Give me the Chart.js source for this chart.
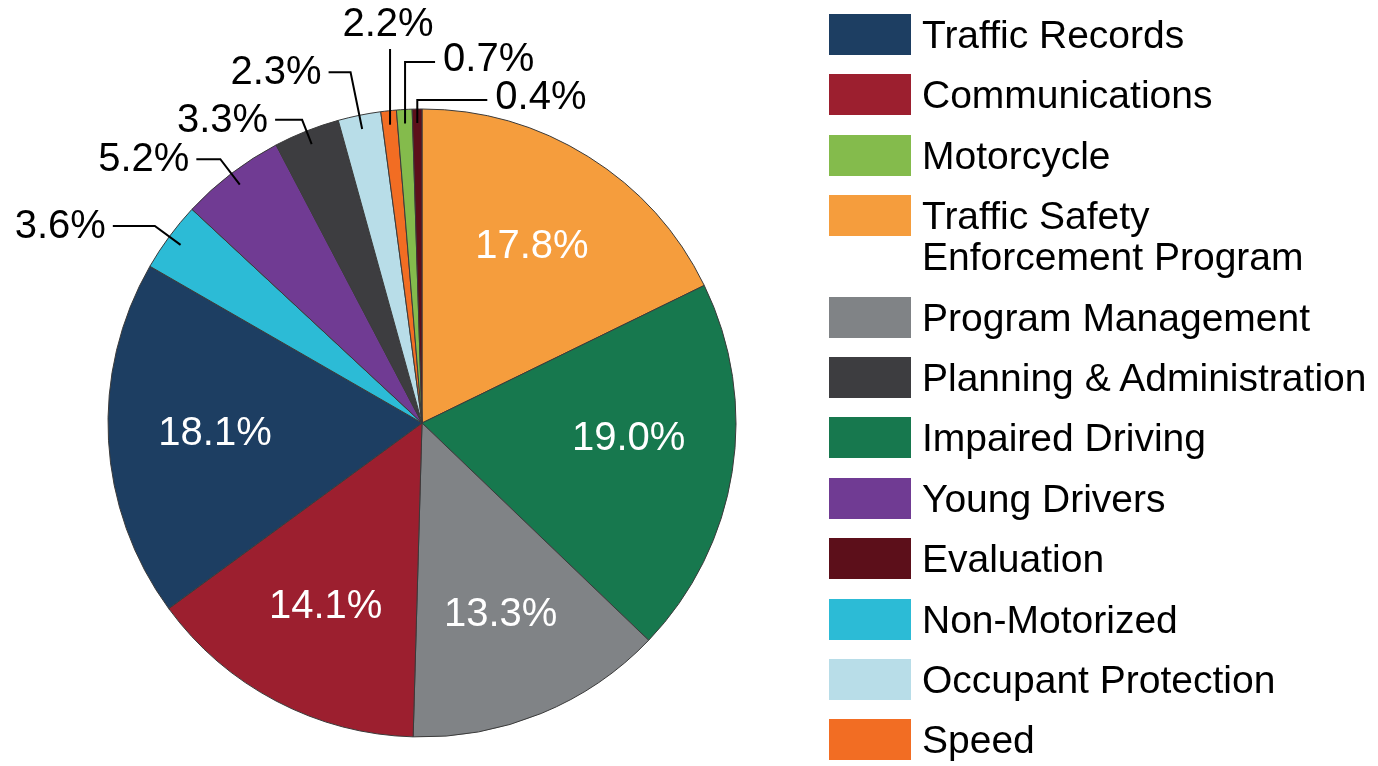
<!DOCTYPE html>
<html lang="en">
<head>
<meta charset="UTF-8">
<title>Funding by Program Area</title>
<script src="https://cdn.jsdelivr.net/npm/chart.js"></script>
<style>
    body { margin: 0; background: #fff; font-family: "Liberation Sans", Arial, sans-serif; }
    #wrap { position: relative; width: 1378px; height: 766px; overflow: hidden; }
    #chartBox { position: absolute; left: 0; top: 0; width: 844px; height: 766px; }
    #legend { position: absolute; left: 829px; top: 14px; display: flex; flex-direction: column; gap: 19.4px; }
    .item { display: flex; align-items: flex-start; }
    .swatch { width: 82px; height: 41px; flex: none; }
    .text { margin-left: 11px; font-size: 39px; line-height: 41px; color: #000; white-space: nowrap; }
</style>
</head>
<body>
<div id="wrap">
    <div id="chartBox"><canvas id="pie"></canvas></div>
    <div id="legend"></div>
</div>

<script>
    // slices in drawing order, clockwise from 12 o'clock
    const categories = ['Traffic Safety Enforcement Program', 'Impaired Driving', 'Program Management', 'Communications',
        'Traffic Records', 'Non-Motorized', 'Young Drivers', 'Planning & Administration', 'Occupant Protection',
        'Speed', 'Motorcycle', 'Evaluation'];
    // share of the pie as drawn
    const shares = [17.8, 19.4, 13.3, 14.5, 18.4, 3.6, 5.4, 3.4, 2.2, 0.8, 0.8, 0.5];
    // percentages as printed on the chart
    const pctLabels = ['17.8%', '19.0%', '13.3%', '14.1%', '18.1%', '3.6%', '5.2%', '3.3%', '2.3%', '2.2%', '0.7%', '0.4%'];
    const colors = ['#f59d3d', '#17784e', '#808386', '#9c1f2f', '#1d3e62', '#2cbbd6', '#703b93', '#3d3d40',
        '#b8dde8', '#f26d23', '#84bb4c', '#5c0f1a'];
    const legendOrder = ['Traffic Records', 'Communications', 'Motorcycle', 'Traffic Safety Enforcement Program',
        'Program Management', 'Planning & Administration', 'Impaired Driving', 'Young Drivers', 'Evaluation',
        'Non-Motorized', 'Occupant Protection', 'Speed'];
    const legendLines = { 'Traffic Safety Enforcement Program': ['Traffic Safety', 'Enforcement Program'] };

    // leader lines for the small slices (index -> layout)
    const leaders = {
        5: { ext: 18, arm: -42 },
        6: { ext: 18, arm: -24 },
        7: { ext: 12, arm: -27 },
        8: { ext: 44, arm: -22 },
        9: { ext: 60, arm: 0, up: true },
        10: { ext: 47, arm: 30, up: true },
        11: { ext: 9, arm: 70, up: true }
    };
    // small angle shift (degrees) for inside labels that sit off the slice middle
    const insideShift = { 1: -4.5 };

    const labelFont = '40px "Liberation Sans", Arial, sans-serif';

    const sliceLabels = {
        id: 'sliceLabels',
        afterDatasetsDraw(chart) {
            const ctx = chart.ctx;
            const arcs = chart.getDatasetMeta(0).data;
            ctx.save();
            ctx.font = labelFont;
            ctx.textBaseline = 'middle';
            arcs.forEach((arc, i) => {
                const { x, y, startAngle, endAngle, outerRadius } =
                    arc.getProps(['x', 'y', 'startAngle', 'endAngle', 'outerRadius'], true);
                const mid = (startAngle + endAngle) / 2;
                const lead = leaders[i];
                if (!lead) {
                    const a = mid + (insideShift[i] || 0) * Math.PI / 180;
                    const r = outerRadius * 0.66;
                    ctx.fillStyle = '#fff';
                    ctx.textAlign = 'center';
                    ctx.fillText(pctLabels[i], x + r * Math.cos(a), y + r * Math.sin(a));
                    return;
                }
                const ax = x + (outerRadius - 14) * Math.cos(mid);
                const ay = y + (outerRadius - 14) * Math.sin(mid);
                let ex, ey;
                if (lead.up) {
                    ex = ax;
                    ey = y - outerRadius - lead.ext;
                } else {
                    ex = x + (outerRadius + lead.ext) * Math.cos(mid);
                    ey = y + (outerRadius + lead.ext) * Math.sin(mid);
                }
                const hx = ex + lead.arm;
                ctx.strokeStyle = '#000';
                ctx.lineWidth = 2;
                ctx.beginPath();
                ctx.moveTo(ax, ay);
                ctx.lineTo(ex, ey);
                ctx.lineTo(hx, ey);
                ctx.stroke();
                ctx.fillStyle = '#000';
                if (lead.arm < 0) {
                    ctx.textAlign = 'right';
                    ctx.fillText(pctLabels[i], hx - 7, ey + 1);
                } else if (lead.arm > 0) {
                    ctx.textAlign = 'left';
                    ctx.fillText(pctLabels[i], hx + 8, ey - 2);
                } else {
                    ctx.textAlign = 'center';
                    ctx.fillText(pctLabels[i], ex - 2, ey - 24);
                }
            });
            ctx.restore();
        }
    };

    const chart = new Chart(document.getElementById('pie'), {
        type: 'pie',
        data: {
            labels: categories,
            datasets: [{
                data: shares,
                backgroundColor: colors,
                borderColor: '#3a3a3a',
                borderWidth: 1,
                hoverOffset: 0
            }]
        },
        options: {
            responsive: true,
            maintainAspectRatio: false,
            animation: false,
            layout: { padding: { top: 108.5, bottom: 28.5, left: 107.5, right: 107.5 } },
            plugins: {
                legend: { display: false },
                tooltip: { enabled: false }
            }
        },
        plugins: [sliceLabels]
    });

    // legend on the right, in the reference's own order
    const legendEl = document.getElementById('legend');
    legendOrder.forEach(name => {
        const idx = chart.data.labels.indexOf(name);
        const item = document.createElement('div');
        item.className = 'item';
        const sw = document.createElement('div');
        sw.className = 'swatch';
        sw.style.background = chart.data.datasets[0].backgroundColor[idx];
        const txt = document.createElement('div');
        txt.className = 'text';
        (legendLines[name] || [name]).forEach((line, k) => {
            if (k > 0) txt.appendChild(document.createElement('br'));
            txt.appendChild(document.createTextNode(line));
        });
        item.appendChild(sw);
        item.appendChild(txt);
        legendEl.appendChild(item);
    });
</script>
</body>
</html>
